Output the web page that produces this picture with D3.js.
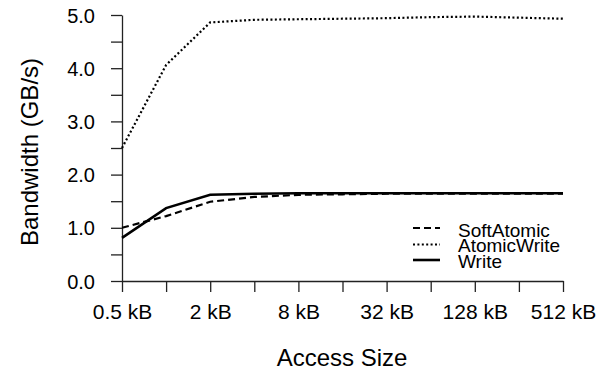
<!DOCTYPE html>
<html><head><meta charset="utf-8">
<script src="https://cdn.jsdelivr.net/npm/d3@7"></script>
<style>body{margin:0;background:#fff}text{font-family:"Liberation Sans",Arial,sans-serif;fill:#000}</style>
</head><body><svg id="c" width="607" height="375"></svg>
<script>
const sizes = [0.5,1,2,4,8,16,32,64,128,256,512];
const xTickLabels = ["0.5 kB","2 kB","8 kB","32 kB","128 kB","512 kB"];
const xLabelValues = [0.5,2,8,32,128,512];
const yTicks = [0,0.5,1,1.5,2,2.5,3,3.5,4,4.5,5];
const yLabelValues = [0,1,2,3,4,5];
const softAtomic = [1.00,1.22,1.49,1.58,1.62,1.63,1.64,1.64,1.64,1.64,1.64];
const atomicWrite = [2.50,4.06,4.86,4.91,4.92,4.93,4.94,4.96,4.97,4.95,4.93];
const write = [0.81,1.37,1.62,1.64,1.65,1.65,1.65,1.65,1.65,1.65,1.65];
const seriesNames = ["SoftAtomic","AtomicWrite","Write"];

const svg = d3.select("#c");
const x = d3.scaleLog().base(2).domain([0.5,512]).range([122,563]);
const y = d3.scaleLinear().domain([0,5]).range([281,15]);
const axisColor = "#222";

// Y axis
const ya = svg.append("g").attr("transform","translate(122,0)")
  .call(d3.axisLeft(y).tickValues(yTicks).tickSize(11).tickSizeOuter(0).tickFormat(d=>yLabelValues.includes(d)?d3.format(".1f")(d):""));
ya.select(".domain").attr("stroke",axisColor).attr("stroke-width",1.3);
ya.selectAll(".tick line").attr("stroke",axisColor).attr("stroke-width",1.3);
ya.selectAll(".tick text").attr("font-size",20).attr("x",-27).attr("dy","0.35em").style("font-family","Liberation Sans, Arial, sans-serif").attr("fill","#000");

// X axis
const xa = svg.append("g").attr("transform","translate(0,281)")
  .call(d3.axisBottom(x).tickValues(sizes).tickSize(11).tickSizeOuter(0)
    .tickFormat(d=>{const i=xLabelValues.indexOf(d);return i>=0?xTickLabels[i]:"";}));
xa.select(".domain").attr("stroke",axisColor).attr("stroke-width",1.3);
xa.selectAll(".tick line").attr("stroke",axisColor).attr("stroke-width",1.3);
xa.selectAll(".tick text").attr("font-size",21).attr("y",23).style("font-family","Liberation Sans, Arial, sans-serif").attr("fill","#000");

// titles
svg.append("text").attr("x",342).attr("y",366).attr("text-anchor","middle").attr("font-size",24).text("Access Size");
svg.append("text").attr("transform","translate(38,152) rotate(-90)").attr("text-anchor","middle").attr("font-size",24).text("Bandwidth (GB/s)");

const styles = [
  {data:softAtomic, dash:"7,4", w:2.2},
  {data:atomicWrite, dash:"2,2.4", w:2.2},
  {data:write, dash:null, w:2.6}
];
const line = d3.line().x((d,i)=>x(sizes[i])).y(d=>y(d));
styles.forEach(s=>{
  svg.append("path").datum(s.data).attr("d",line).attr("fill","none")
    .attr("stroke","#000").attr("stroke-width",s.w)
    .attr("stroke-dasharray",s.dash);
});

// legend
const lg = svg.append("g");
const lineYs = [228,244.5,260];
const textYs = [236.5,252,267.5];
seriesNames.forEach((n,i)=>{
  lg.append("line").attr("x1",413).attr("x2",440).attr("y1",lineYs[i]).attr("y2",lineYs[i])
    .attr("stroke","#000").attr("stroke-width",styles[i].w).attr("stroke-dasharray",styles[i].dash);
  lg.append("text").attr("x",458).attr("y",textYs[i]).attr("font-size",19).text(n);
});
</script></body></html>
